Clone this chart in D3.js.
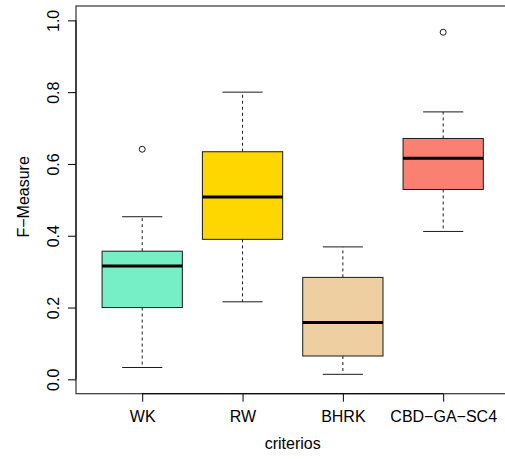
<!DOCTYPE html>
<html>
<head>
<meta charset="utf-8">
<script src="https://cdn.jsdelivr.net/npm/d3@7"></script>
<style>
  html, body { margin: 0; padding: 0; background: #fff; }
  svg { display: block; font-family: "Liberation Sans", Arial, Helvetica, sans-serif; }
</style>
</head>
<body>
<svg id="chart" width="505" height="459"></svg>
<script>
// ---- data ----
const categories = ["WK", "RW", "BHRK", "CBD\u2212GA\u2212SC4"];
const whiskerLow = [0.033, 0.216, 0.014, 0.412];
const q1 = [0.200, 0.390, 0.065, 0.529];
const median = [0.316, 0.508, 0.158, 0.616];
const q3 = [0.357, 0.634, 0.284, 0.671];
const whiskerHigh = [0.453, 0.800, 0.369, 0.745];
const outliers = [[0.641], [], [], [0.967]];
const fillColors = ["#76EEC6", "#FFD700", "#EECFA1", "#FA8072"];
const yTicks = [0.0, 0.2, 0.4, 0.6, 0.8, 1.0];
const yLabel = "F\u2212Measure";
const xLabel = "criterios";

// ---- layout ----
const svg = d3.select("#chart");
const mLeft = 76, mRight = 509.4, mTop = 6, mBottom = 393.7;
const x = d3.scaleLinear().domain([0.34, 4.66]).range([mLeft, mRight]);
const y = d3.scaleLinear().domain([-0.04, 1.04]).range([mBottom, mTop]);
const boxW = 0.8, stapleW = 0.4;
const stroke = "#1a1a1a";

const rows = categories.map((c, i) => ({
  i, pos: i + 1, c, lo: whiskerLow[i], q1: q1[i], med: median[i], q3: q3[i], hi: whiskerHigh[i],
  out: outliers[i], fill: fillColors[i]
}));

const g = svg.append("g");
rows.forEach(d => {
  const cx = x(d.pos);
  const gg = g.append("g");
  // whiskers (dashed)
  gg.append("line").attr("x1", cx).attr("x2", cx).attr("y1", y(d.q3)).attr("y2", y(d.hi))
    .attr("stroke", stroke).attr("stroke-dasharray", "3,3").attr("stroke-width", 1);
  gg.append("line").attr("x1", cx).attr("x2", cx).attr("y1", y(d.q1)).attr("y2", y(d.lo))
    .attr("stroke", stroke).attr("stroke-dasharray", "3,3").attr("stroke-width", 1);
  // staples
  [d.hi, d.lo].forEach(v => {
    gg.append("line").attr("x1", x(d.pos - stapleW / 2)).attr("x2", x(d.pos + stapleW / 2))
      .attr("y1", y(v)).attr("y2", y(v)).attr("stroke", stroke).attr("stroke-width", 1);
  });
  // box
  gg.append("rect").attr("x", x(d.pos - boxW / 2)).attr("width", x(d.pos + boxW / 2) - x(d.pos - boxW / 2))
    .attr("y", y(d.q3)).attr("height", y(d.q1) - y(d.q3))
    .attr("fill", d.fill).attr("stroke", stroke).attr("stroke-width", 1);
  // median
  gg.append("line").attr("x1", x(d.pos - boxW / 2)).attr("x2", x(d.pos + boxW / 2))
    .attr("y1", y(d.med)).attr("y2", y(d.med)).attr("stroke", "#000").attr("stroke-width", 3);
  // outliers
  d.out.forEach(v => {
    gg.append("circle").attr("cx", cx).attr("cy", y(v)).attr("r", 3)
      .attr("fill", "none").attr("stroke", stroke).attr("stroke-width", 1);
  });
});

// frame
svg.append("rect").attr("x", mLeft).attr("y", mTop).attr("width", mRight - mLeft).attr("height", mBottom - mTop)
  .attr("fill", "none").attr("stroke", "#333").attr("stroke-width", 1.2);

// y axis
const yAxis = d3.axisLeft(y).tickValues(yTicks).tickFormat(d3.format(".1f")).tickSize(8).tickSizeOuter(0);
const ya = svg.append("g").attr("transform", `translate(${mLeft},0)`).call(yAxis);
ya.select(".domain").attr("d", `M-0,${y(yTicks[0])}V${y(yTicks[yTicks.length - 1])}`).attr("stroke", "#000");
ya.selectAll(".tick line").attr("stroke", "#000");
ya.selectAll(".tick text")
  .attr("x", 0).attr("y", 0).attr("dy", null)
  .attr("transform", "translate(-17,0) rotate(-90)")
  .attr("text-anchor", "middle")
  .attr("font-size", 16).attr("fill", "#000")
  .attr("font-family", "Liberation Sans, Arial, sans-serif");

// x axis
const xAxis = d3.axisBottom(x).tickValues(rows.map(d => d.pos)).tickFormat((d, i) => categories[i])
  .tickSize(8).tickSizeOuter(0);
const xa = svg.append("g").attr("transform", `translate(0,${mBottom})`).call(xAxis);
xa.select(".domain").attr("d", `M${x(1)},0H${x(categories.length)}`).attr("stroke", "#000");
xa.selectAll(".tick line").attr("stroke", "#000");
xa.selectAll(".tick text").attr("y", 28).attr("dy", null)
  .attr("font-size", 16).attr("fill", "#000")
  .attr("font-family", "Liberation Sans, Arial, sans-serif");

// axis titles
svg.append("text").attr("x", (mLeft + mRight) / 2).attr("y", 449).attr("text-anchor", "middle")
  .attr("font-size", 16).attr("fill", "#000").text(xLabel);
svg.append("text").attr("transform", `translate(29,${(mTop + mBottom) / 2 - 3}) rotate(-90)`)
  .attr("text-anchor", "middle").attr("font-size", 16).attr("fill", "#000").text(yLabel);
</script>
</body>
</html>
